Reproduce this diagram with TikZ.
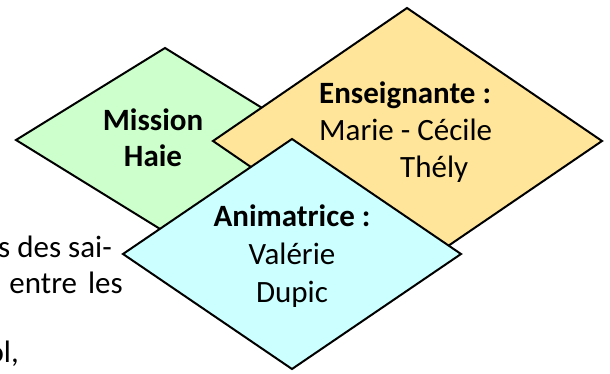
\documentclass[tikz,border=0pt]{standalone}
\usepackage{fontspec}
\setmainfont{Carlito}
\definecolor{haiegreen}{RGB}{204,255,204}
\definecolor{profbeige}{RGB}{255,229,153}
\definecolor{animcyan}{RGB}{204,255,255}
\tikzset{
  losange/.style={draw=black, line width=2pt, line join=miter},
  etiquette/.style={inner sep=0pt, font=\fontsize{31}{37}\selectfont},
}
\begin{document}
\begin{tikzpicture}[x=1pt, y=-1pt]
  \useasboundingbox (0,0) rectangle (610,374);
  \clip (0,0) rectangle (610,374);
  % bits of the page text behind
  \node[etiquette, anchor=base east] (ligneA) at (112,257) {s des sai-};
  \node[etiquette, anchor=base east] (ligneB) at (123,293) {entre\hspace{4pt} les};
  \node[etiquette, anchor=base east] (ligneC) at (19,362) {ol,};

  % the three diamonds
  \filldraw[losange, fill=haiegreen] (16,140) -- (165,48) -- (314,140) -- (165,232) -- cycle;
  \filldraw[losange, fill=profbeige] (213,141) -- (407,8) -- (602,141) -- (407,274) -- cycle;
  \filldraw[losange, fill=animcyan] (123,254) -- (292,139) -- (461,254) -- (292,369) -- cycle;

  % texts (base anchor sits on the last line)
  \node[etiquette, anchor=base, align=center, font=\fontsize{31}{36}\selectfont\bfseries] (mission) at (153,167) {Mission\\Haie};
  \node[etiquette, anchor=base west, align=left] (enseignante) at (319,178) {\textbf{Enseignante :}\\Marie - Cécile\\\hspace*{81pt}Thély};
  \node[etiquette, anchor=base, align=center, font=\fontsize{31}{38}\selectfont] (animatrice) at (292,302) {\textbf{Animatrice :}\\Valérie\\Dupic};
\end{tikzpicture}
\end{document}
